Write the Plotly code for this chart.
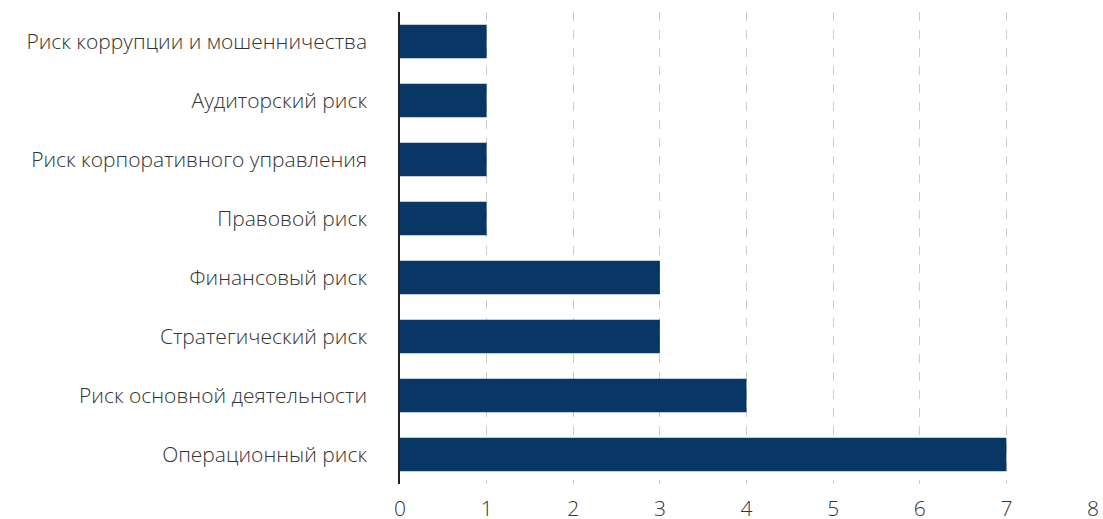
import plotly.graph_objects as go

categories = [
    "Риск коррупции и мошенничества",
    "Аудиторский риск",
    "Риск корпоративного управления",
    "Правовой риск",
    "Финансовый риск",
    "Стратегический риск",
    "Риск основной деятельности",
    "Операционный риск",
]
values = [1, 1, 1, 1, 3, 3, 4, 7]
x_ticks = [0, 1, 2, 3, 4, 5, 6, 7, 8]

fig = go.Figure(go.Bar(
    x=values, y=categories, orientation="h",
    marker=dict(color="#083765", line=dict(width=0)),
    width=0.57,
))

fig.update_layout(
    width=1103, height=519,
    margin=dict(l=400, r=10, t=12, b=35),
    paper_bgcolor="white", plot_bgcolor="white",
    font=dict(family="Open Sans", size=21, color="#333333", weight=300),
    showlegend=False,
)
fig.update_xaxes(
    range=[0, 8], tickvals=x_ticks, ticktext=[str(v) for v in x_ticks],
    showgrid=True, gridcolor="#cccccc", griddash="dash", gridwidth=1.2,
    zeroline=False, showline=False, ticks="", ticklabelstandoff=10,
    automargin=False, ticklabeloverflow="allow",
)
fig.update_yaxes(
    autorange="reversed", showgrid=False, showline=True, linecolor="#222222",
    linewidth=1.5, ticks="", ticklabelstandoff=27, automargin=False,
)
fig.write_html(
    "out.html",
    config={"displayModeBar": False},
    post_script="document.body.style.margin='0';",
)
